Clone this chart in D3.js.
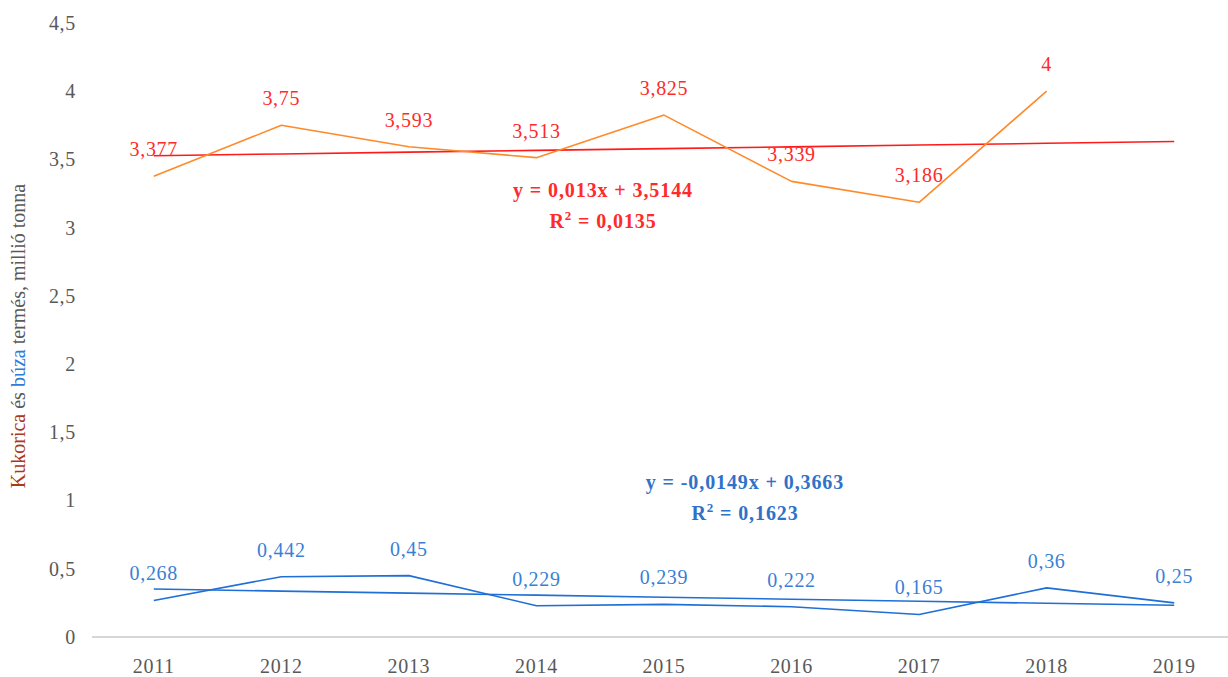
<!DOCTYPE html>
<html>
<head>
<meta charset="utf-8">
<script src="https://cdn.jsdelivr.net/npm/d3@7/dist/d3.min.js"></script>
<style>
  html, body { margin: 0; padding: 0; background: #fff; }
  svg { display: block; }
  svg text { font-family: "Liberation Serif", "Times New Roman", Times, serif; }
</style>
</head>
<body>
<svg id="chart" width="1228" height="677"></svg>
<script>
// Harvest per year, million tonnes
const years = ["2011", "2012", "2013", "2014", "2015", "2016", "2017", "2018", "2019"];
const maize = [3.377, 3.75, 3.593, 3.513, 3.825, 3.339, 3.186, 4, null];
const wheat = [0.268, 0.442, 0.45, 0.229, 0.239, 0.222, 0.165, 0.36, 0.25];
const maizeLabels = ["3,377", "3,75", "3,593", "3,513", "3,825", "3,339", "3,186", "4", ""];
const wheatLabels = ["0,268", "0,442", "0,45", "0,229", "0,239", "0,222", "0,165", "0,36", "0,25"];

// Linear trend coefficients [slope, intercept], x = 1..9
const maizeTrend = [0.013, 3.5144];
const wheatTrend = [-0.0149, 0.3663];
const maizeEq = ["y = 0,013x + 3,5144", "0,0135"];
const wheatEq = ["y = -0,0149x + 0,3663", "0,1623"];

const yTicks = [0, 0.5, 1, 1.5, 2, 2.5, 3, 3.5, 4, 4.5];

const svg = d3.select("#chart");

const x = d3.scaleBand().domain(years).range([90, 1238]);
const cx = d => x(d) + x.bandwidth() / 2;
const y = d3.scaleLinear().domain([0, 4.5]).range([637, 23]);

const tickColor = "#595959";

// Category axis
svg.append("line")
  .attr("x1", 92).attr("x2", 1228)
  .attr("y1", y(0)).attr("y2", y(0))
  .attr("stroke", "#c8c8c8").attr("stroke-width", 1.3);

const xAxis = svg.append("g")
  .attr("transform", `translate(0,${y(0)})`)
  .call(d3.axisBottom(x).tickSize(0).tickPadding(22));
xAxis.select(".domain").remove();
xAxis.selectAll("text")
  .attr("font-size", 20).attr("letter-spacing", 0.7).attr("fill", tickColor);

// Value axis
const yAxis = svg.append("g")
  .attr("transform", "translate(76,0)")
  .call(d3.axisLeft(y).tickValues(yTicks).tickSize(0).tickPadding(0)
    .tickFormat(d => String(d).replace(".", ",")));
yAxis.select(".domain").remove();
yAxis.selectAll("text")
  .attr("font-size", 20).attr("letter-spacing", 0.7).attr("fill", tickColor);

// Axis title with coloured crop names
const title = svg.append("text")
  .attr("transform", `translate(25,336) rotate(-90)`)
  .attr("text-anchor", "middle")
  .attr("font-size", 20).attr("fill", tickColor);
title.append("tspan").attr("fill", "#a8391c").text("Kukorica");
title.append("tspan").text(" és ");
title.append("tspan").attr("fill", "#2f7bd8").text("búza");
title.append("tspan").text(" termés, millió tonna");

// Trend lines
const idx = d3.range(1, years.length + 1);
function trendLine(coef, color) {
  const line = d3.line()
    .x((k, i) => cx(years[i]))
    .y(k => y(coef[0] * k + coef[1]));
  svg.append("path").datum(idx)
    .attr("d", line).attr("fill", "none")
    .attr("stroke", color).attr("stroke-width", 1.6);
}
trendLine(maizeTrend, "#ff1a1a");
trendLine(wheatTrend, "#1f6fd6");

// Data series
function series(values, color) {
  const line = d3.line()
    .defined(v => v !== null)
    .x((v, i) => cx(years[i]))
    .y(v => y(v));
  svg.append("path").datum(values)
    .attr("d", line).attr("fill", "none")
    .attr("stroke", color).attr("stroke-width", 1.6)
    .attr("stroke-linejoin", "round");
}
series(maize, "#ff8a2a");
series(wheat, "#1f6fd6");

// Value labels above points
function labels(values, texts, color) {
  svg.append("g").selectAll("text")
    .data(values.map((v, i) => ({ v, t: texts[i], yr: years[i] })).filter(d => d.v !== null))
    .join("text")
    .attr("x", d => cx(d.yr))
    .attr("y", d => y(d.v) - 20)
    .attr("text-anchor", "middle")
    .attr("font-size", 20).attr("letter-spacing", 0.7).attr("fill", color)
    .text(d => d.t);
}
labels(maize, maizeLabels, "#ff2a2a");
labels(wheat, wheatLabels, "#3a7fd6");

// Trend equations
function equation(eq, color, xc, yTop) {
  const g = svg.append("g").attr("font-size", 20).attr("font-weight", "bold")
    .attr("letter-spacing", 0.9)
    .attr("fill", color).attr("text-anchor", "middle");
  g.append("text").attr("x", xc).attr("y", yTop).text(eq[0]);
  const r = g.append("text").attr("x", xc).attr("y", yTop + 31);
  r.append("tspan").text("R");
  r.append("tspan").attr("dy", -8).attr("font-size", 13).text("2");
  r.append("tspan").attr("dy", 8).text(" = " + eq[1]);
}
equation(maizeEq, "#ff2a2a", 603, 197);
equation(wheatEq, "#2f72c8", 745, 489);
</script>
</body>
</html>
